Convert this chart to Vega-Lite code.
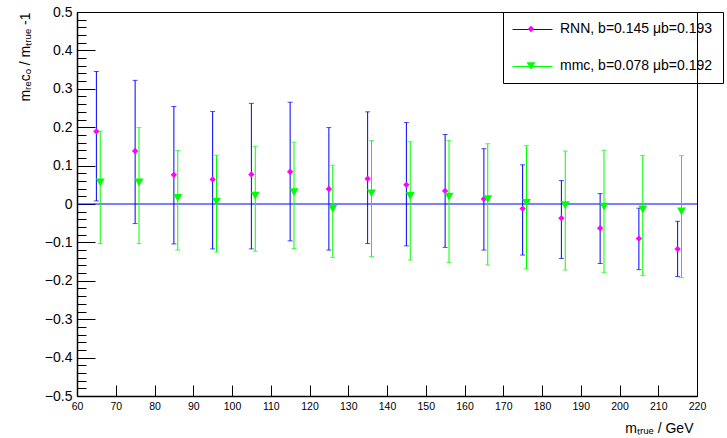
{
  "$schema": "https://vega.github.io/schema/vega-lite/v6.json",
  "width": 620,
  "height": 384,
  "autosize": {"type": "none"},
  "padding": {"left": 77, "top": 12, "right": 30, "bottom": 42},
  "background": "white",
  "config": {
    "view": {"stroke": "black", "strokeWidth": 1},
    "font": "Liberation Sans",
    "axis": {"grid": false, "tickColor": "black", "domainColor": "black", "labelColor": "black", "titleColor": "black", "titleFontWeight": "normal", "labelFlush": false}
  },
  "data": {"values": [
    {"m": 65, "series": "RNN", "v": 0.189, "lo": 0.008, "hi": 0.345},
    {"m": 75, "series": "RNN", "v": 0.138, "lo": -0.051, "hi": 0.322},
    {"m": 85, "series": "RNN", "v": 0.076, "lo": -0.104, "hi": 0.254},
    {"m": 95, "series": "RNN", "v": 0.064, "lo": -0.117, "hi": 0.241},
    {"m": 105, "series": "RNN", "v": 0.077, "lo": -0.117, "hi": 0.262},
    {"m": 115, "series": "RNN", "v": 0.084, "lo": -0.096, "hi": 0.265},
    {"m": 125, "series": "RNN", "v": 0.039, "lo": -0.12, "hi": 0.199},
    {"m": 135, "series": "RNN", "v": 0.066, "lo": -0.103, "hi": 0.24},
    {"m": 145, "series": "RNN", "v": 0.05, "lo": -0.109, "hi": 0.212},
    {"m": 155, "series": "RNN", "v": 0.034, "lo": -0.113, "hi": 0.181},
    {"m": 165, "series": "RNN", "v": 0.013, "lo": -0.12, "hi": 0.144},
    {"m": 175, "series": "RNN", "v": -0.012, "lo": -0.133, "hi": 0.102},
    {"m": 185, "series": "RNN", "v": -0.037, "lo": -0.142, "hi": 0.061},
    {"m": 195, "series": "RNN", "v": -0.063, "lo": -0.155, "hi": 0.027},
    {"m": 205, "series": "RNN", "v": -0.09, "lo": -0.171, "hi": -0.011},
    {"m": 215, "series": "RNN", "v": -0.117, "lo": -0.189, "hi": -0.045},
    {"m": 66, "series": "mmc", "v": 0.056, "lo": -0.103, "hi": 0.19},
    {"m": 76, "series": "mmc", "v": 0.056, "lo": -0.103, "hi": 0.199},
    {"m": 86, "series": "mmc", "v": 0.016, "lo": -0.12, "hi": 0.139},
    {"m": 96, "series": "mmc", "v": 0.006, "lo": -0.125, "hi": 0.127},
    {"m": 106, "series": "mmc", "v": 0.022, "lo": -0.123, "hi": 0.15},
    {"m": 116, "series": "mmc", "v": 0.031, "lo": -0.116, "hi": 0.161},
    {"m": 126, "series": "mmc", "v": -0.013, "lo": -0.139, "hi": 0.101},
    {"m": 136, "series": "mmc", "v": 0.028, "lo": -0.137, "hi": 0.165},
    {"m": 146, "series": "mmc", "v": 0.021, "lo": -0.146, "hi": 0.162},
    {"m": 156, "series": "mmc", "v": 0.019, "lo": -0.152, "hi": 0.165},
    {"m": 166, "series": "mmc", "v": 0.013, "lo": -0.159, "hi": 0.157},
    {"m": 176, "series": "mmc", "v": 0.003, "lo": -0.169, "hi": 0.152},
    {"m": 186, "series": "mmc", "v": -0.003, "lo": -0.172, "hi": 0.138},
    {"m": 196, "series": "mmc", "v": -0.007, "lo": -0.178, "hi": 0.14},
    {"m": 206, "series": "mmc", "v": -0.014, "lo": -0.186, "hi": 0.126},
    {"m": 216, "series": "mmc", "v": -0.019, "lo": -0.192, "hi": 0.126}
  ]},
  "resolve": {
    "scale": {"color": "independent", "shape": "independent", "size": "independent"},
    "axis": {"x": "independent", "y": "independent"},
    "legend": {"color": "independent"}
  },
  "layer": [
    {
      "data": {"values": [{"ref": 0}]},
      "mark": {"type": "rule", "color": "#0000ff", "strokeWidth": 1.2},
      "encoding": {
        "y": {"field": "ref", "type": "quantitative",
          "scale": {"domain": [-0.5, 0.5], "nice": false, "zero": false},
          "axis": {"orient": "left", "values": [-0.5,-0.48,-0.46,-0.44,-0.42,-0.4,-0.38,-0.36,-0.34,-0.32,-0.3,-0.28,-0.26,-0.24,-0.22,-0.2,-0.18,-0.16,-0.14,-0.12,-0.1,-0.08,-0.06,-0.04,-0.02,0,0.02,0.04,0.06,0.08,0.1,0.12,0.14,0.16,0.18,0.2,0.22,0.24,0.26,0.28,0.3,0.32,0.34,0.36,0.38,0.4,0.42,0.44,0.46,0.48,0.5],
            "tickSize": -9, "labels": false, "domain": false, "title": null}
        }
      }
    },
    {
      "mark": {"type": "rule", "strokeWidth": 1},
      "encoding": {
        "x": {"field": "m", "type": "quantitative",
          "scale": {"domain": [60, 220], "nice": false, "zero": false},
          "axis": {"orient": "bottom", "values": [60,70,80,90,100,110,120,130,140,150,160,170,180,190,200,210,220],
            "tickSize": -11, "labelFontSize": 10.5, "labelPadding": 16, "domainWidth": 1.5,
            "title": "mₜᵣᵤₑ / GeV", "titleFontSize": 14, "titleAnchor": "end", "titleX": 616, "titleY": 36, "titleBaseline": "alphabetic", "titleAlign": "right"}},
        "y": {"field": "lo", "type": "quantitative",
          "scale": {"domain": [-0.5, 0.5], "nice": false, "zero": false},
          "axis": {"orient": "left", "values": [-0.5,-0.4,-0.3,-0.2,-0.1,0,0.1,0.2,0.3,0.4,0.5], "format": "~f",
            "tickSize": -18, "labelFontSize": 14, "labelPadding": 23, "domainWidth": 1.5,
            "title": "mᵣₑcₒ / mₜᵣᵤₑ -1", "titleFontSize": 14, "titleAnchor": "end", "titleX": -48, "titleY": 0, "titleAlign": "right", "titleBaseline": "alphabetic"}},
        "y2": {"field": "hi"},
        "color": {"field": "series", "type": "nominal",
          "scale": {"domain": ["RNN", "mmc"], "range": ["#0000ff", "#00ff00"]},
          "legend": {"orient": "none", "legendX": 426, "legendY": -12, "title": null,
            "symbolType": "stroke", "symbolSize": 1600, "symbolStrokeWidth": 1,
            "padding": 9, "rowPadding": 9,
            "labelFontSize": 14, "labelOffset": 10, "labelLimit": 400, "labelExpr": "''",
            "encode": {"symbols": {"update": {"stroke": {"signal": "datum.value === 'RNN' ? '#0000ff' : '#00ff00'"}}}}}}
      }
    },
    {
      "mark": {"type": "tick", "orient": "horizontal", "size": 5, "thickness": 1},
      "encoding": {
        "x": {"field": "m", "type": "quantitative", "scale": {"domain": [60, 220], "nice": false, "zero": false}, "axis": null},
        "y": {"field": "lo", "type": "quantitative", "scale": {"domain": [-0.5, 0.5], "nice": false, "zero": false}, "axis": null},
        "color": {"field": "series", "type": "nominal", "scale": {"domain": ["RNN", "mmc"], "range": ["#0000ff", "#00ff00"]}, "legend": null}
      }
    },
    {
      "mark": {"type": "tick", "orient": "horizontal", "size": 5, "thickness": 1},
      "encoding": {
        "x": {"field": "m", "type": "quantitative", "scale": {"domain": [60, 220], "nice": false, "zero": false}, "axis": null},
        "y": {"field": "hi", "type": "quantitative", "scale": {"domain": [-0.5, 0.5], "nice": false, "zero": false}, "axis": null},
        "color": {"field": "series", "type": "nominal", "scale": {"domain": ["RNN", "mmc"], "range": ["#0000ff", "#00ff00"]}, "legend": null}
      }
    },
    {
      "mark": {"type": "point", "filled": true, "opacity": 1},
      "encoding": {
        "x": {"field": "m", "type": "quantitative", "scale": {"domain": [60, 220], "nice": false, "zero": false}, "axis": null},
        "y": {"field": "v", "type": "quantitative", "scale": {"domain": [-0.5, 0.5], "nice": false, "zero": false}, "axis": null},
        "color": {"field": "series", "type": "nominal", "scale": {"domain": ["RNN", "mmc"], "range": ["#ff00ff", "#00ff00"]},
          "legend": {"orient": "none", "legendX": 426, "legendY": 0, "title": null, "padding": 10,
            "strokeColor": "black",
            "symbolOffset": 11, "labelOffset": 22, "labelFontSize": 14, "labelColor": "black", "rowPadding": 23, "labelLimit": 400,
            "labelExpr": "datum.label == 'RNN' ? 'RNN, b=0.145 μb=0.193' : 'mmc, b=0.078 μb=0.192'"}},
        "shape": {"field": "series", "type": "nominal", "scale": {"domain": ["RNN", "mmc"], "range": ["diamond", "triangle-down"]}},
        "size": {"field": "series", "type": "nominal", "scale": {"domain": ["RNN", "mmc"], "range": [40, 80]}}
      }
    }
  ]
}
